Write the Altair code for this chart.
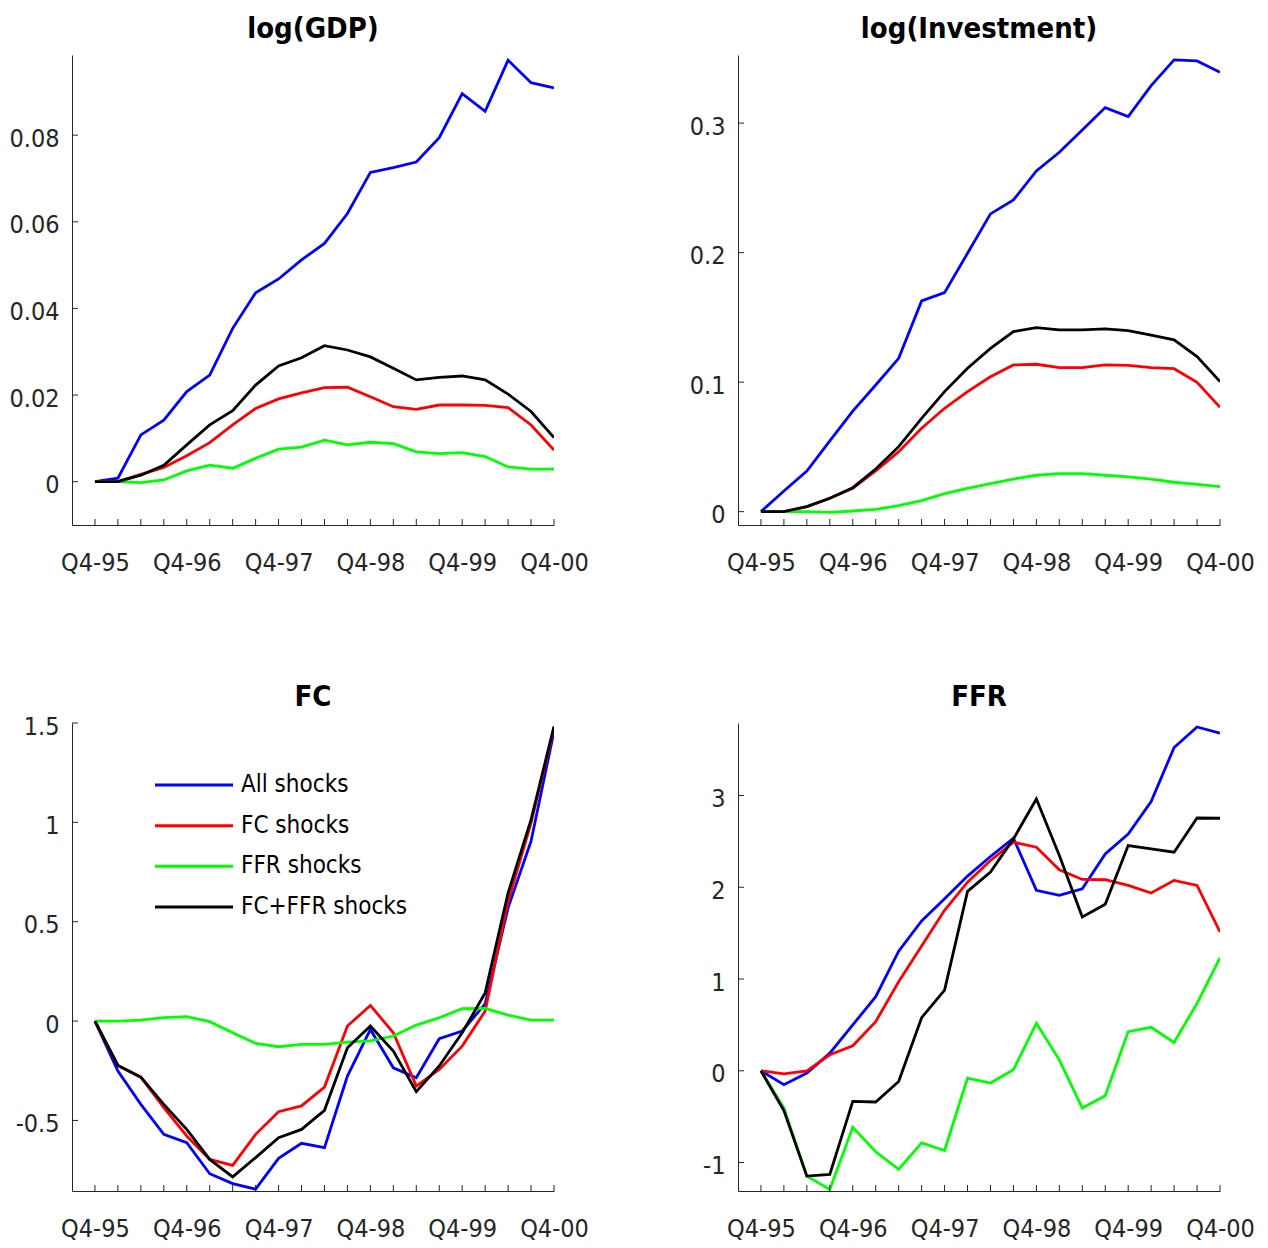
import altair as alt
import pandas as pd

quarters = list(range(21))
x_tick_values = [0, 4, 8, 12, 16, 20]
x_tick_labels = ["Q4-95", "Q4-96", "Q4-97", "Q4-98", "Q4-99", "Q4-00"]
series_names = ["All shocks", "FC shocks", "FFR shocks", "FC+FFR shocks"]
series_colors = ["#0000ff", "#ff0000", "#00ff00", "#000000"]

gdp_all = [0, 0.0008, 0.0108, 0.0142, 0.0208, 0.0246, 0.0354, 0.0436, 0.0468, 0.0512, 0.055,
           0.0619, 0.0714, 0.0725, 0.0738, 0.0794, 0.0896, 0.0855, 0.0973, 0.0921, 0.0909]
gdp_fc = [0, 0, 0.0017, 0.0033, 0.006, 0.009, 0.0131, 0.0169, 0.0191, 0.0205, 0.0217,
          0.0218, 0.0196, 0.0173, 0.0167, 0.0177, 0.0177, 0.0176, 0.0171, 0.0131, 0.0073]
gdp_ffr = [0, 0, -0.0002, 0.0004, 0.0025, 0.0038, 0.0031, 0.0054, 0.0075, 0.008, 0.0096,
           0.0085, 0.0091, 0.0088, 0.0069, 0.0065, 0.0067, 0.0058, 0.0034, 0.0029, 0.0029]
gdp_both = [0, 0, 0.0015, 0.0038, 0.0085, 0.0131, 0.0164, 0.0223, 0.0267, 0.0286, 0.0314,
            0.0304, 0.0288, 0.0262, 0.0235, 0.0241, 0.0244, 0.0235, 0.0202, 0.0162, 0.0102]

inv_all = [0, 0.016, 0.0314, 0.0546, 0.0777, 0.0978, 0.1184, 0.1627, 0.1691, 0.1995, 0.2299,
           0.2407, 0.2631, 0.2775, 0.2947, 0.312, 0.305, 0.329, 0.3488, 0.348, 0.3393]
inv_fc = [0, 0, 0.0039, 0.0103, 0.018, 0.0314, 0.0463, 0.0644, 0.0798, 0.0927, 0.1042,
          0.1133, 0.1138, 0.1112, 0.1112, 0.1133, 0.113, 0.1112, 0.1104, 0.0999, 0.0806]
inv_ffr = [0, 0, 0, -0.0005, 0.0005, 0.0018, 0.0046, 0.0085, 0.0139, 0.018, 0.0216,
           0.0252, 0.0281, 0.0293, 0.0293, 0.0281, 0.0268, 0.0252, 0.0227, 0.0211, 0.0193]
inv_both = [0, 0, 0.0039, 0.0103, 0.0185, 0.0329, 0.0502, 0.0721, 0.0927, 0.1107, 0.1261,
            0.139, 0.1421, 0.1403, 0.1403, 0.1411, 0.1398, 0.1364, 0.1326, 0.1197, 0.1004]

fc_all = [0, -0.251, -0.419, -0.57, -0.612, -0.768, -0.818, -0.846, -0.691, -0.615, -0.637,
          -0.277, -0.042, -0.235, -0.285, -0.089, -0.05, 0.087, 0.57, 0.905, 1.458]
fc_fc = [0, -0.223, -0.282, -0.436, -0.578, -0.696, -0.726, -0.57, -0.456, -0.427, -0.332,
         -0.025, 0.079, -0.059, -0.327, -0.243, -0.126, 0.05, 0.603, 0.997, 1.475]
fc_ffr = [0, 0, 0.005, 0.017, 0.022, -0.003, -0.059, -0.112, -0.129, -0.117, -0.117,
          -0.106, -0.1, -0.075, -0.02, 0.017, 0.062, 0.064, 0.03, 0.005, 0.005]
fc_both = [0, -0.223, -0.282, -0.419, -0.545, -0.696, -0.784, -0.687, -0.587, -0.545, -0.449,
           -0.134, -0.025, -0.151, -0.355, -0.226, -0.059, 0.142, 0.645, 1.014, 1.483]

ffr_all = [0, -0.152, -0.025, 0.192, 0.5, 0.807, 1.303, 1.633, 1.875, 2.122, 2.335,
           2.534, 1.966, 1.912, 1.984, 2.364, 2.581, 2.933, 3.523, 3.747, 3.679]
ffr_fc = [0, -0.033, 0, 0.174, 0.272, 0.536, 0.97, 1.361, 1.749, 2.056, 2.292,
          2.491, 2.437, 2.19, 2.085, 2.082, 2.02, 1.937, 2.075, 2.02, 1.513]
ffr_ffr = [0, -0.406, -1.148, -1.293, -0.616, -0.883, -1.075, -0.786, -0.869, -0.08, -0.134,
           0.011, 0.518, 0.119, -0.406, -0.272, 0.427, 0.474, 0.308, 0.735, 1.231]
ffr_both = [0, -0.434, -1.148, -1.13, -0.333, -0.34, -0.116, 0.579, 0.88, 1.955, 2.165,
            2.527, 2.962, 2.346, 1.676, 1.814, 2.455, 2.419, 2.382, 2.755, 2.752]

FONT = "DejaVu Sans Condensed, DejaVu Sans, sans-serif"
AX = "#262626"
TICK_FS = 25
TITLE_FS = 29
LEG_FS = 24

label_array = "[" + ",".join("'%s'" % s for s in x_tick_labels) + "]"


def panel(title, series_values, domain, yticks, w, h, legend=False):
    rows = []
    for name, vals in zip(series_names, series_values):
        for q, v in zip(quarters, vals):
            rows.append({"q": q, "v": v, "series": name})
    df = pd.DataFrame(rows)

    xscale = alt.Scale(domain=[-1, 20], nice=False, zero=False)
    yscale = alt.Scale(domain=domain, nice=False, zero=False)
    xaxis = alt.Axis(values=x_tick_values, labelExpr=label_array + "[datum.value/4]",
                     title=None, grid=False, ticks=False, domainColor=AX, domainWidth=1,
                     labelOverlap=False, labelFlush=False,
                     labelFont=FONT, labelFontSize=TICK_FS, labelColor=AX, labelPadding=25)
    yaxis = alt.Axis(values=yticks, labelExpr="'' + datum.value",
                     title=None, grid=False, ticks=False, domainColor=AX, domainWidth=1,
                     labelOverlap=False, labelFlush=False, labelOffset=3,
                     labelFont=FONT, labelFontSize=TICK_FS, labelColor=AX, labelPadding=13)
    color = alt.Color("series:N", scale=alt.Scale(domain=series_names, range=series_colors), legend=None)

    lines = alt.Chart(df).mark_line(strokeWidth=2.8, clip=True).encode(
        x=alt.X("q:Q", scale=xscale, axis=xaxis),
        y=alt.Y("v:Q", scale=yscale, axis=yaxis),
        color=color,
    )
    xt = alt.Chart(pd.DataFrame({"q": quarters})).mark_rule(color=AX, strokeWidth=1).encode(
        x=alt.X("q:Q", scale=xscale, axis=xaxis), y=alt.value(h), y2=alt.value(h - 6))
    yt = alt.Chart(pd.DataFrame({"v": yticks})).mark_rule(color=AX, strokeWidth=1).encode(
        y=alt.Y("v:Q", scale=yscale, axis=yaxis), x=alt.value(0), x2=alt.value(6))
    tt = alt.Chart(pd.DataFrame({"t": [title]})).mark_text(
        align="center", baseline="alphabetic", font=FONT, fontSize=TITLE_FS, fontWeight="bold",
        color="#000000").encode(x=alt.value(w / 2), y=alt.value(-17), text="t:N")
    ch = alt.layer(lines, xt, yt, tt)
    if legend:
        ldf = pd.DataFrame({"series": series_names})
        ly = alt.Y("series:N", scale=alt.Scale(type="point", domain=series_names, range=[62, 184], padding=0), axis=None)
        lr = alt.Chart(ldf).mark_rule(strokeWidth=3).encode(
            x=alt.value(83), x2=alt.value(161), y=ly, color=color)
        lt = alt.Chart(ldf).mark_text(align="left", baseline="middle", font=FONT, fontSize=LEG_FS, color="#000000").encode(
            x=alt.value(169), y=ly, text="series:N")
        ch = alt.layer(ch, alt.layer(lr, lt)).resolve_scale(y="independent")
    return ch.properties(width=w, height=h)


p1 = panel("log(GDP)", [gdp_all, gdp_fc, gdp_ffr, gdp_both], [-0.01, 0.0985], [0, 0.02, 0.04, 0.06, 0.08], 482, 470)
p2 = panel("log(Investment)", [inv_all, inv_fc, inv_ffr, inv_both], [-0.0103, 0.3526], [0, 0.1, 0.2, 0.3], 482, 470)
p3 = panel("FC", [fc_all, fc_fc, fc_ffr, fc_both], [-0.855, 1.5], [-0.5, 0, 0.5, 1, 1.5], 482, 468, legend=True)
p4 = panel("FFR", [ffr_all, ffr_fc, ffr_ffr, ffr_both], [-1.31, 3.79], [-1, 0, 1, 2, 3], 482, 468)

chart = alt.concat(p1, p2, p3, p4, columns=2, spacing={"row": 198, "column": 184}, bounds="flush").properties(
    padding={"left": 0, "top": 7, "right": 5, "bottom": 5}, background="#ffffff"
).configure_view(stroke=None)

chart.save("out.html", embed_options={"renderer": "svg", "actions": False})
